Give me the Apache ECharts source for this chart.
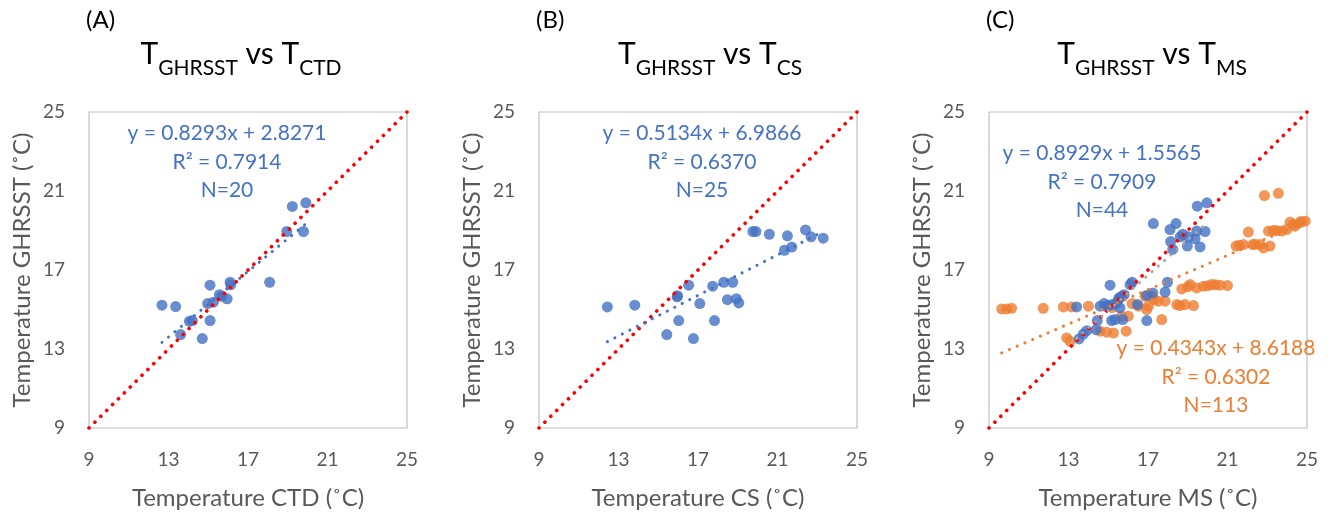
<!DOCTYPE html>
<html><head><meta charset="utf-8">
<script src="https://cdn.jsdelivr.net/npm/echarts@6/dist/echarts.min.js"></script>
<style>html,body{margin:0;padding:0;background:#fff}#c{width:1337px;height:517px}</style>
</head><body><div id="c"></div>
<script>
// ---- data ----
const tickValues = [9, 13, 17, 21, 25];
const axisMin = 9, axisMax = 25;

const ctdX = [12.67,13.36,13.61,14.20,14.70,15.09,15.09,14.97,15.26,15.68,15.56,15.95,16.10,16.13,18.09,18.95,19.23,19.79,19.91,14.05];
const ctdY = [15.22,15.15,13.73,14.44,13.53,16.23,14.44,15.30,15.37,15.67,15.75,15.54,16.38,16.25,16.38,18.95,20.22,18.95,20.40,14.40];

const csX = [12.44,13.82,15.43,15.95,15.97,16.03,16.53,16.77,17.09,17.74,17.83,18.30,18.48,18.75,18.93,19.05,19.76,19.91,20.59,21.50,21.35,21.72,22.41,22.69,23.30];
const csY = [15.13,15.22,13.73,15.64,15.70,14.44,16.23,13.53,15.30,16.18,14.44,16.38,15.50,16.38,15.55,15.33,18.95,18.95,18.81,18.73,18.00,18.16,19.03,18.68,18.61];

const msBlueX = [13.41,13.53,13.75,13.92,14.39,14.45,14.59,14.79,15.01,15.09,15.17,15.34,15.43,15.51,15.68,15.73,15.59,16.10,16.20,16.47,16.94,16.94,17.24,17.27,17.86,17.98,18.11,18.41,18.14,18.24,18.75,18.98,19.03,19.45,19.48,19.62,19.87,19.96,19.37,18.62,15.20,15.55,14.90,15.80];
const msBlueY = [15.13,13.51,13.76,13.93,13.98,14.44,15.17,15.30,15.20,16.23,14.44,14.49,15.33,15.50,15.67,14.49,15.08,16.26,16.38,15.25,14.44,15.71,15.84,19.35,15.88,16.38,19.05,19.35,18.44,18.04,18.81,18.21,18.68,18.97,20.23,18.17,18.95,20.40,18.58,18.68,15.25,15.60,15.15,15.75];

const msOrangeX = [9.64,9.89,10.14,11.73,12.74,13.16,14.00,12.91,13.08,14.59,14.92,15.26,15.90,15.68,16.01,16.52,17.02,16.94,17.52,17.86,17.69,16.85,17.19,18.45,18.87,19.29,18.70,19.12,19.45,19.79,20.21,20.63,21.00,22.86,23.56,22.05,21.43,21.80,22.27,22.64,22.81,23.14,23.06,23.48,23.73,23.98,24.15,24.40,24.62,24.91,25.07,20.00,20.40,19.00,18.60,23.30,24.30,24.70,22.40,21.60,15.20,16.20,17.30];
const msOrangeY = [15.03,15.03,15.06,15.06,15.13,15.13,15.17,13.56,13.39,13.90,13.85,13.81,13.90,14.66,14.66,15.17,15.17,15.00,15.42,15.42,14.49,15.67,15.67,15.25,15.25,15.20,16.04,16.26,16.09,16.18,16.26,16.23,16.21,20.77,20.88,18.92,18.21,18.29,18.29,18.29,18.12,18.21,18.97,19.00,18.97,19.05,19.42,19.22,19.39,19.47,18.63,16.20,16.25,16.15,15.20,19.00,19.30,19.45,18.30,18.25,15.10,15.30,15.50];

// trendline coefficients as printed on the chart
const fitCTD = {a: 0.8293, b: 2.8271};
const fitCS = {a: 0.5134, b: 6.9866};
const fitMSblue = {a: 0.8929, b: 1.5565};
const fitMSorange = {a: 0.4343, b: 8.6188};

const titlesSub = [['GHRSST','CTD'],['GHRSST','CS'],['GHRSST','MS']];
const panelLabels = ['(A)','(B)','(C)'];
const xNames = ['Temperature CTD (˚C)','Temperature CS (˚C)','Temperature MS (˚C)'];
const yName = 'Temperature GHRSST (˚C)';

// ---- build ----
const BLUE = '#4472C4', ORANGE = '#ED7D31', GRAYT = '#595959', FONT = 'Lato';
const zip = (xs, ys) => xs.map((x, i) => [x, ys[i]]);
const fitLine = (f, xs) => {
  const lo = Math.min(...xs), hi = Math.max(...xs);
  return [[lo, f.a * lo + f.b], [hi, f.a * hi + f.b]];
};

const lefts = [89, 539, 989];
const titleCenters = [241, 710, 1152];
const W = 318, H = 316, TOP = 112;

const grids = [], xAxes = [], yAxes = [], series = [], graphics = [];
lefts.forEach((l, i) => {
  grids.push({left: l, top: TOP, width: W, height: H, show: true, borderColor: '#BFBFBF', borderWidth: 1.2, containLabel: false});
  xAxes.push({type: 'value', gridIndex: i, min: axisMin, max: axisMax,
    axisLine: {show: false}, axisTick: {show: false}, splitLine: {show: false},
    axisLabel: {customValues: tickValues, color: GRAYT, fontFamily: FONT, fontSize: 19, margin: 22},
    name: xNames[i], nameLocation: 'middle', nameGap: 58,
    nameTextStyle: {color: GRAYT, fontFamily: FONT, fontSize: 24}});
  yAxes.push({type: 'value', gridIndex: i, min: axisMin, max: axisMax,
    axisLine: {show: false}, axisTick: {show: false}, splitLine: {show: false},
    axisLabel: {customValues: tickValues, color: GRAYT, fontFamily: FONT, fontSize: 19, margin: 24},
    name: yName, nameLocation: 'middle', nameGap: 55,
    nameTextStyle: {color: GRAYT, fontFamily: FONT, fontSize: 24}});
  // 1:1 line
  series.push({type: 'line', xAxisIndex: i, yAxisIndex: i, data: [[axisMin, axisMin], [axisMax, axisMax]],
    symbol: 'none', silent: true, z: 3,
    lineStyle: {color: '#FF0000', width: 3.6, type: [0.1, 8.2], cap: 'round'}});
  // panel label
  graphics.push({type: 'text', left: l - 3, top: 8, style: {text: panelLabels[i], fill: '#000', font: '24px ' + FONT}});
  // title
  graphics.push({type: 'text', x: titleCenters[i], y: 39,
    style: {text: '{a|T}{b|' + titlesSub[i][0] + '}{a| vs T}{b|' + titlesSub[i][1] + '}', align: 'center', verticalAlign: 'top',
      rich: {a: {fontSize: 30, fontFamily: FONT, color: GRAYT, lineHeight: 31, verticalAlign: 'top'},
             b: {fontSize: 21, fontFamily: FONT, color: GRAYT, lineHeight: 22, padding: [19, 0, 0, 0], verticalAlign: 'top'}}}});
});

const dot = (c) => ({color: c, width: 3, type: [0.1, 8.3], cap: 'round'});

series.push({type: 'scatter', xAxisIndex: 0, yAxisIndex: 0, data: zip(ctdX, ctdY), symbolSize: 11, itemStyle: {color: BLUE}, z: 2});
series.push({type: 'line', xAxisIndex: 0, yAxisIndex: 0, data: fitLine(fitCTD, ctdX), symbol: 'none', lineStyle: dot(BLUE), z: 4});

series.push({type: 'scatter', xAxisIndex: 1, yAxisIndex: 1, data: zip(csX, csY), symbolSize: 11, itemStyle: {color: BLUE}, z: 2});
series.push({type: 'line', xAxisIndex: 1, yAxisIndex: 1, data: fitLine(fitCS, csX), symbol: 'none', lineStyle: dot(BLUE), z: 4});

series.push({type: 'scatter', xAxisIndex: 2, yAxisIndex: 2, data: zip(msOrangeX, msOrangeY), symbolSize: 11, itemStyle: {color: ORANGE}, z: 2});
series.push({type: 'scatter', xAxisIndex: 2, yAxisIndex: 2, data: zip(msBlueX, msBlueY), symbolSize: 11, itemStyle: {color: BLUE}, z: 2});
series.push({type: 'line', xAxisIndex: 2, yAxisIndex: 2, data: fitLine(fitMSorange, msOrangeX), symbol: 'none', lineStyle: dot(ORANGE), z: 4});
series.push({type: 'line', xAxisIndex: 2, yAxisIndex: 2, data: fitLine(fitMSblue, msBlueX), symbol: 'none', lineStyle: dot('#A5A5A5'), z: 4});

// equation texts
const eq = (x, y, lines, c) => graphics.push({type: 'text', x: x, y: y,
  style: {text: lines.join('\n'), fill: c, font: '21px ' + FONT, align: 'center', verticalAlign: 'top', lineHeight: 28.5}});
eq(227, 119, ['y = 0.8293x + 2.8271', 'R² = 0.7914', 'N=20'], BLUE);
eq(702, 119, ['y = 0.5134x + 6.9866', 'R² = 0.6370', 'N=25'], BLUE);
eq(1102, 139, ['y = 0.8929x + 1.5565', 'R² = 0.7909', 'N=44'], BLUE);
eq(1216, 334, ['y = 0.4343x + 8.6188', 'R² = 0.6302', 'N=113'], ORANGE);

const chart = echarts.init(document.getElementById('c'), null, {renderer: 'canvas'});
chart.setOption({animation: false, backgroundColor: '#fff', grid: grids, xAxis: xAxes, yAxis: yAxes, series: series, graphic: graphics});
</script></body></html>
